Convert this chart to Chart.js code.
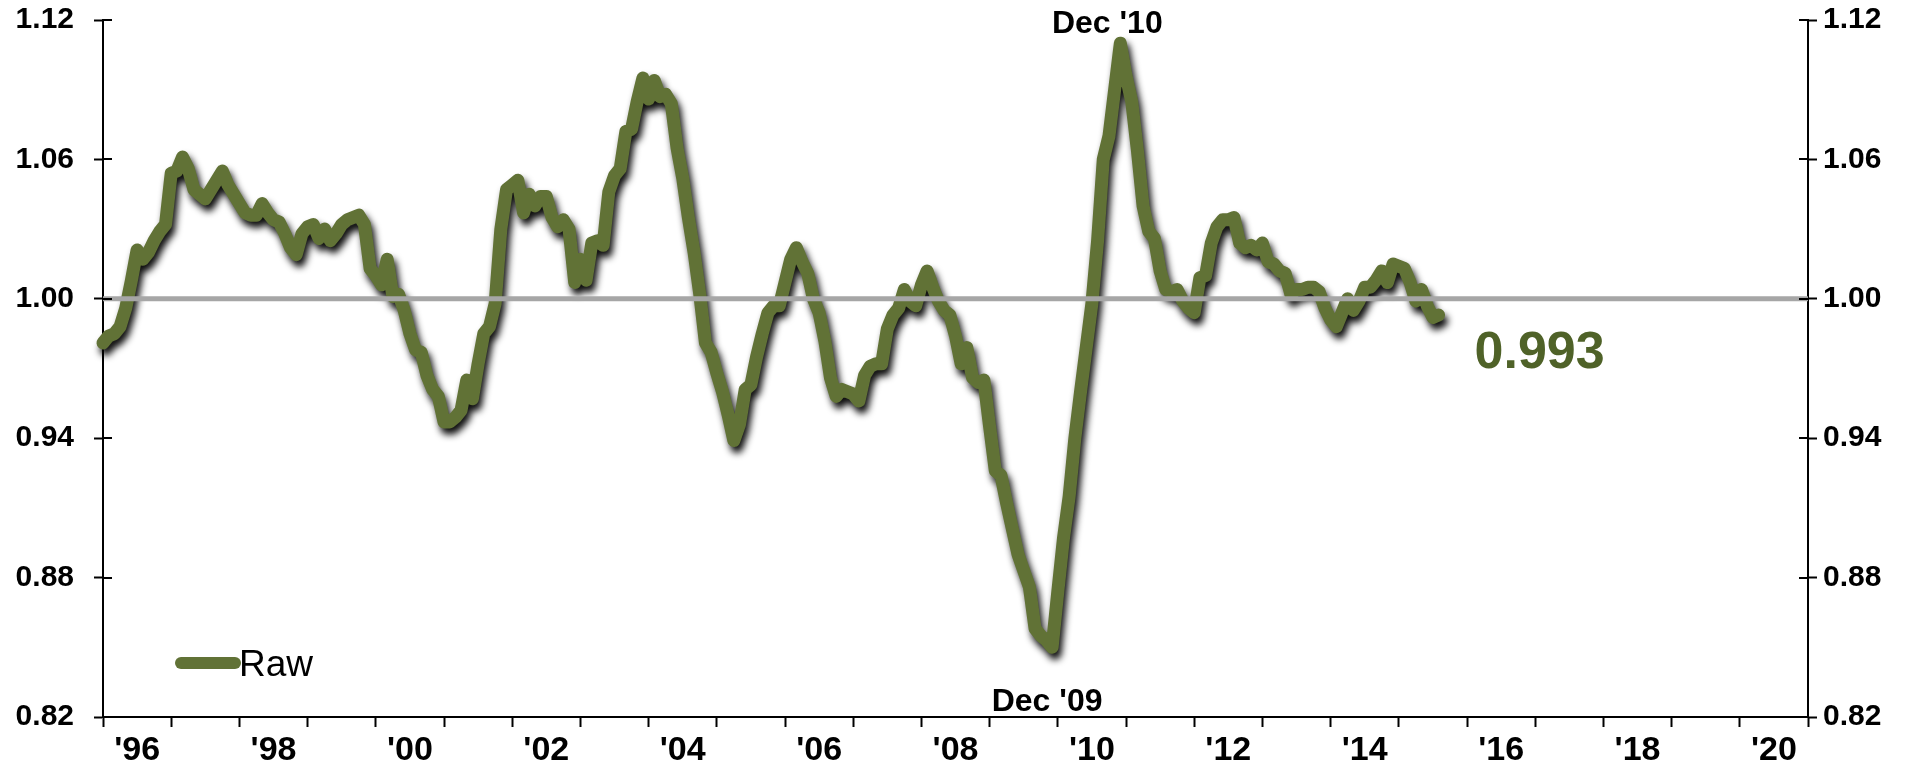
<!DOCTYPE html>
<html>
<head>
<meta charset="utf-8">
<script src="https://cdn.jsdelivr.net/npm/chart.js@4.4.1/dist/chart.umd.min.js"></script>
<style>
  html, body { margin: 0; padding: 0; background: #fff; }
  #wrap { width: 1916px; height: 774px; position: relative; }
</style>
</head>
<body>
<div id="wrap"><canvas id="rawChart"></canvas></div>
<script>
// monthly series, Jan 1996 .. Aug 2015
const startYear = 1996;
const endYear = 2021;
const rawValues = [
  0.981, 0.984, 0.985, 0.988, 0.996, 1.008, 1.021, 1.017, 1.020, 1.025, 1.029, 1.032,
  1.054, 1.055, 1.061, 1.056, 1.047, 1.045, 1.043, 1.047, 1.051, 1.055, 1.049, 1.045,
  1.041, 1.037, 1.036, 1.036, 1.041, 1.037, 1.034, 1.033, 1.028, 1.022, 1.019, 1.028,
  1.031, 1.032, 1.026, 1.030, 1.025, 1.028, 1.032, 1.034, 1.035, 1.036, 1.032, 1.013,
  1.010, 1.006, 1.017, 1.001, 1.002, 0.995, 0.985, 0.978, 0.977, 0.967, 0.961, 0.958,
  0.947, 0.947, 0.949, 0.952, 0.965, 0.957, 0.972, 0.985, 0.988, 0.998, 1.030, 1.047,
  1.049, 1.051, 1.037, 1.045, 1.040, 1.044, 1.044, 1.035, 1.031, 1.034, 1.030, 1.007,
  1.017, 1.008, 1.024, 1.025, 1.023, 1.046, 1.053, 1.056, 1.072, 1.073, 1.085, 1.095,
  1.086, 1.094, 1.087, 1.088, 1.084, 1.065, 1.052, 1.035, 1.020, 1.002, 0.981, 0.977,
  0.968, 0.960, 0.950, 0.939, 0.946, 0.961, 0.963, 0.975, 0.985, 0.994, 0.997, 0.997,
  1.007, 1.017, 1.022, 1.016, 1.011, 1.000, 0.994, 0.982, 0.966, 0.958, 0.961, 0.960,
  0.959, 0.956, 0.967, 0.971, 0.972, 0.972, 0.987, 0.993, 0.996, 1.004, 0.999, 0.997,
  1.006, 1.012, 1.005, 0.999, 0.995, 0.993, 0.984, 0.972, 0.979, 0.966, 0.964, 0.965,
  0.945, 0.926, 0.924, 0.912, 0.901, 0.890, 0.883, 0.876, 0.858, 0.855, 0.853, 0.850,
  0.874, 0.897, 0.915, 0.940, 0.960, 0.979, 0.998, 1.025, 1.060, 1.070, 1.090, 1.110,
  1.096, 1.085, 1.064, 1.040, 1.029, 1.026, 1.012, 1.004, 1.003, 1.004, 0.999, 0.996,
  0.994, 1.009, 1.010, 1.024, 1.031, 1.034, 1.034, 1.035, 1.024, 1.022, 1.023, 1.021,
  1.024, 1.016, 1.015, 1.012, 1.011, 1.002, 1.004, 1.004, 1.005, 1.005, 1.003, 0.996,
  0.991, 0.988, 0.994, 1.000, 0.995, 0.999, 1.005, 1.005, 1.008, 1.012, 1.007, 1.015,
  1.014, 1.013, 1.007, 0.999, 1.004, 0.997, 0.992, 0.993
];
const labelYears = [1996, 1998, 2000, 2002, 2004, 2006, 2008, 2010, 2012, 2014, 2016, 2018, 2020];
const yearLabels = ["'96", "'98", "'00", "'02", "'04", "'06", "'08", "'10", "'12", "'14", "'16", "'18", "'20"];
const yTicks = [0.82, 0.88, 0.94, 1.00, 1.06, 1.12];
const baseLevel = 1.00;
const seriesName = "Raw";
const lastValueText = "0.993";
const troughIndex = 167, troughLabel = "Dec '09";
const peakIndex = 179, peakLabel = "Dec '10";

const green = '#617236';
const FONT = "'Liberation Sans', Arial, sans-serif";

const rawPoints = rawValues.map((v, i) => ({ x: startYear + i / 12, y: v }));

// drop shadow under the green line only
const shadowPlugin = {
  id: 'lineShadow',
  beforeDatasetDraw(chart, args) {
    if (args.index !== 0) return;
    const ctx = chart.ctx;
    ctx.save();
    ctx.shadowColor = 'rgba(0,0,0,0.95)';
    ctx.shadowBlur = 7;
    ctx.shadowOffsetX = 3;
    ctx.shadowOffsetY = 6;
  },
  afterDatasetDraw(chart, args) {
    if (args.index !== 0) return;
    chart.ctx.restore();
  }
};

// inner halves of y ticks, labels, legend
const extrasPlugin = {
  id: 'extras',
  afterDraw(chart) {
    const ctx = chart.ctx;
    const area = chart.chartArea;
    ctx.save();
    ctx.strokeStyle = '#000';
    ctx.lineWidth = 2;
    ['y', 'y2'].forEach(id => {
      const s = chart.scales[id];
      const x0 = id === 'y' ? area.left : area.right;
      const dir = id === 'y' ? 1 : -1;
      s.ticks.forEach(t => {
        const py = Math.round(s.getPixelForValue(t.value));
        ctx.beginPath();
        ctx.moveTo(x0, py);
        ctx.lineTo(x0 + dir * 9, py);
        ctx.stroke();
      });
    });

    const meta = chart.getDatasetMeta(0);
    ctx.fillStyle = '#000';
    ctx.font = 'bold 32px ' + FONT;
    ctx.textAlign = 'center';
    ctx.textBaseline = 'alphabetic';
    const peak = meta.data[peakIndex];
    ctx.fillText(peakLabel, peak.x - 13, peak.y - 10);
    const trough = meta.data[troughIndex];
    ctx.fillText(troughLabel, trough.x - 5, chart.scales.y.bottom - 6);

    const last = meta.data[meta.data.length - 1];
    ctx.fillStyle = '#4f6228';
    ctx.font = 'bold 52px ' + FONT;
    ctx.textAlign = 'left';
    ctx.fillText(lastValueText, last.x + 36, last.y + 53);

    // legend
    const ly = area.bottom - 54;
    ctx.strokeStyle = green;
    ctx.lineWidth = 12;
    ctx.lineCap = 'round';
    ctx.beginPath();
    ctx.moveTo(area.left + 78, ly);
    ctx.lineTo(area.left + 132, ly);
    ctx.stroke();
    ctx.fillStyle = '#000';
    ctx.font = '37px ' + FONT;
    ctx.fillText(seriesName, area.left + 136, ly + 13);
    ctx.restore();
  }
};

const xTickValues = [];
for (let yr = startYear; yr <= endYear; yr++) xTickValues.push(yr);
labelYears.forEach(yr => xTickValues.push(yr + 0.5));
xTickValues.sort((a, b) => a - b);

const yAxis = (pos) => ({
  type: 'linear',
  position: pos,
  min: 0.82,
  max: 1.12,
  afterBuildTicks: s => { s.ticks = yTicks.map(v => ({ value: v })); },
  afterFit: s => {
    s.width = pos === 'left' ? 103 : 108;
    s.paddingTop = 0;
    s.paddingBottom = 0;
  },
  border: { display: true, color: '#000', width: 2 },
  grid: { drawOnChartArea: false, drawTicks: true, tickLength: 9, tickWidth: 2, tickColor: '#000' },
  ticks: {
    color: '#000',
    padding: pos === 'left' ? 20 : 6,
    font: { family: FONT, size: 30, weight: 'bold' },
    callback: v => Number(v).toFixed(2)
  }
});

new Chart(document.getElementById('rawChart'), {
  type: 'line',
  data: {
    datasets: [{
      label: seriesName,
      data: rawPoints,
      borderColor: green,
      borderWidth: 13,
      borderJoinStyle: 'round',
      borderCapStyle: 'round',
      pointRadius: 0,
      tension: 0,
      clip: false,
      order: 1
    }, {
      label: 'base',
      data: [{ x: startYear, y: baseLevel }, { x: endYear, y: baseLevel }],
      borderColor: '#a6a6a6',
      borderWidth: 5,
      pointRadius: 0,
      order: 0
    }]
  },
  options: {
    responsive: true,
    maintainAspectRatio: false,
    animation: false,
    layout: { padding: { top: 20, right: 0, bottom: 0, left: 0 } },
    plugins: { legend: { display: false }, tooltip: { enabled: false } },
    scales: {
      x: {
        type: 'linear',
        min: startYear,
        max: endYear,
        afterBuildTicks: s => { s.ticks = xTickValues.map(v => ({ value: v })); },
        afterFit: s => { s.height = 57; },
        border: { display: true, color: '#000', width: 2 },
        grid: {
          drawOnChartArea: false,
          drawTicks: true,
          tickLength: 10,
          tickWidth: 2,
          tickColor: c => (c.tick && Number.isInteger(c.tick.value)) ? '#000' : 'rgba(0,0,0,0)'
        },
        ticks: {
          autoSkip: false,
          maxRotation: 0,
          padding: 3,
          color: '#000',
          font: { family: FONT, size: 34, weight: 'bold' },
          callback: v => {
            const i = labelYears.indexOf(v - 0.5);
            return i >= 0 ? yearLabels[i] : '';
          }
        }
      },
      y: yAxis('left'),
      y2: yAxis('right')
    }
  },
  plugins: [shadowPlugin, extrasPlugin]
});
</script>
</body>
</html>
